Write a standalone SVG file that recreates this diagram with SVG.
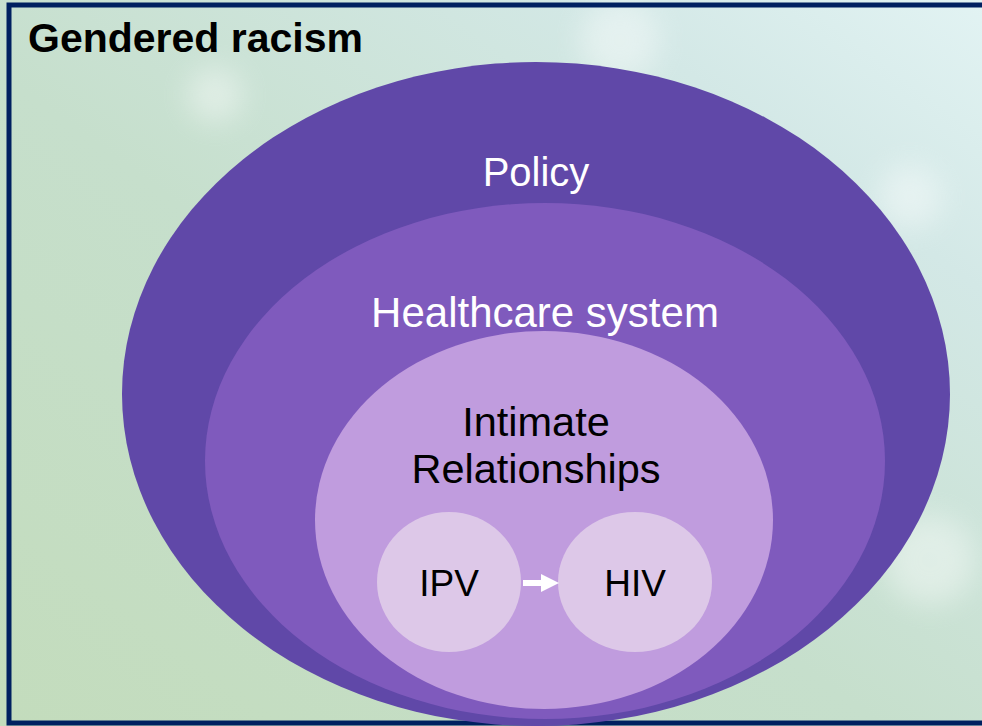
<svg xmlns="http://www.w3.org/2000/svg" width="982" height="726" viewBox="0 0 982 726">
  <defs>
    <linearGradient id="bg" x1="0" y1="1" x2="1" y2="0">
      <stop offset="0" stop-color="#c3dcbc"/>
      <stop offset="0.45" stop-color="#c6dfcc"/>
      <stop offset="0.8" stop-color="#d3e8e6"/>
      <stop offset="1" stop-color="#e2f3f3"/>
    </linearGradient>
    <filter id="soft" x="-50%" y="-50%" width="200%" height="200%">
      <feGaussianBlur stdDeviation="14"/>
    </filter>
    <marker id="arrow" viewBox="0 0 10 10" refX="0" refY="5" markerWidth="3" markerHeight="3" orient="auto" markerUnits="strokeWidth">
      <path d="M0,0 L10,5 L0,10 Z" fill="#ffffff"/>
    </marker>
  </defs>
  <style>
    .label { font-family: "Liberation Sans", Arial, sans-serif; fill: #ffffff; text-anchor: middle; font-size: 40px; }
    .label-wide { font-size: 42px; }
    .title { font-family: "Liberation Sans", Arial, sans-serif; font-weight: bold; font-size: 41px; fill: #000000; }
    .node-text { font-family: "Liberation Sans", Arial, sans-serif; font-size: 37px; fill: #000000; text-anchor: middle; }
    .node-text-big { font-size: 41.5px; }
  </style>

  <!-- backdrop -->
  <rect x="0" y="0" width="982" height="726" fill="url(#bg)"/>
  <g filter="url(#soft)" fill="#ffffff" opacity="0.4">
    <circle cx="215" cy="95" r="28"/>
    <circle cx="620" cy="40" r="40"/>
    <circle cx="910" cy="197" r="32"/>
    <circle cx="930" cy="560" r="45"/>
  </g>
  <rect x="9" y="5" width="990" height="718" fill="none" stroke="#002060" stroke-width="5"/>

  <text class="title" x="28" y="52">Gendered racism</text>

  <g id="policy">
    <ellipse cx="536" cy="394" rx="414" ry="332" fill="#6048a8"/>
    <text class="label" x="536" y="186">Policy</text>
  </g>

  <g id="healthcare-system">
    <ellipse cx="545" cy="461" rx="340" ry="258" fill="#7f5abd"/>
    <text class="label label-wide" x="545" y="327">Healthcare system</text>
  </g>

  <g id="intimate-relationships">
    <ellipse cx="544" cy="520" rx="229" ry="189" fill="#c09cde"/>
    <text class="node-text node-text-big" x="536" y="436">Intimate</text>
    <text class="node-text node-text-big" x="536" y="483">Relationships</text>
  </g>

  <g id="ipv">
    <ellipse cx="449" cy="582" rx="72" ry="70" fill="#ddc8e8"/>
    <text class="node-text" x="449" y="596">IPV</text>
  </g>

  <g id="hiv">
    <ellipse cx="635" cy="582" rx="77" ry="70" fill="#ddc8e8"/>
    <text class="node-text" x="635" y="596">HIV</text>
  </g>

  <g id="connectors">
    <line x1="523" y1="583" x2="541" y2="583" stroke="#ffffff" stroke-width="6" marker-end="url(#arrow)"/>
  </g>
</svg>
